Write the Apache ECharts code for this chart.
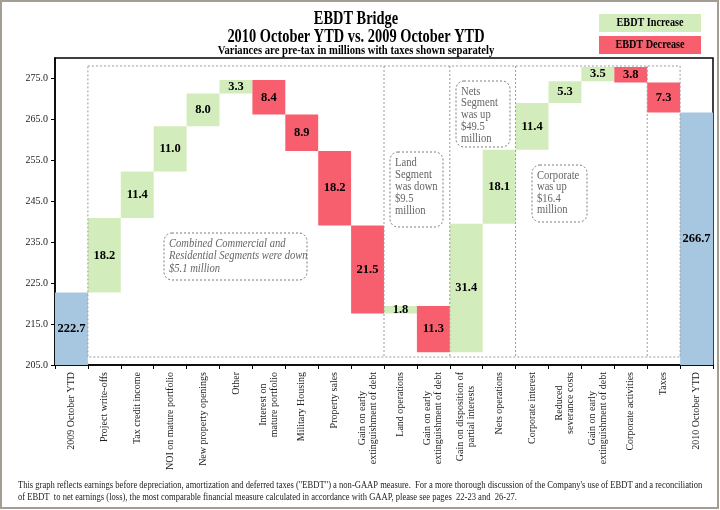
<!DOCTYPE html>
<html>
<head>
<meta charset="utf-8">
<script src="https://cdn.jsdelivr.net/npm/echarts@6/dist/echarts.min.js"></script>
<style>html,body{margin:0;padding:0;background:#fff}#c{width:720px;height:510px}</style>
</head>
<body>
<div id="c"></div>
<script>
const categories = [
  '2009 October YTD', 'Project write-offs', 'Tax credit income', 'NOI on mature portfolio',
  'New property openings', 'Other', 'Interest on\nmature portfolio', 'Military Housing',
  'Property sales', 'Gain on early\nextinguishment of debt', 'Land operations',
  'Gain on early\nextinguishment of debt', 'Gain on disposition of\npartial interests',
  'Nets operations', 'Corporate interest', 'Reduced\nseverance costs',
  'Gain on early\nextinguishment of debt', 'Corporate activities', 'Taxes', '2010 October YTD'
];
const startValue = 222.7;
const endValue = 266.7;
const changes = [18.2, 11.4, 11.0, 8.0, 3.3, -8.4, -8.9, -18.2, -21.5, 1.8, -11.3, 31.4, 18.1, 11.4, 5.3, 3.5, -3.8, -7.3];
const yTicks = [205, 215, 225, 235, 245, 255, 265, 275];
const groupStarts = [1, 10, 12, 14, 18];   // first category of each dashed group
const groupEnd = 18;                        // last category inside the dashed frame
const annotations = [
  { lines: ['Combined Commercial and', 'Residential Segments were down', '$5.1 million'], italic: true },
  { lines: ['Land', 'Segment', 'was down', '$9.5', 'million'] },
  { lines: ['Nets', 'Segment', 'was up', '$49.5', 'million'] },
  { lines: ['Corporate', 'was up', '$16.4', 'million'] }
];
const legendItems = ['EBDT Increase', 'EBDT Decrease'];
const titleLines = ['EBDT Bridge', '2010 October YTD vs. 2009 October YTD', 'Variances are pre-tax in millions with taxes shown separately'];
const footerLines = [
  'This graph reflects earnings before depreciation, amortization and deferred taxes ("EBDT") a non-GAAP measure.  For a more thorough discussion of the Company\'s use of EBDT and a reconciliation',
  'of EBDT  to net earnings (loss), the most comparable financial measure calculated in accordance with GAAP, please see pages  22-23 and  26-27.'
];

const GREEN = '#d3ecbc', RED = '#f75f6e', BLUE = '#a7c7e0';
const SERIF = '"Liberation Serif", "Times New Roman", serif';

// waterfall build
const base = [0], inc = ['-'], dec = ['-'], tot = [startValue];
let run = startValue;
changes.forEach(c => {
  const next = Math.round((run + c) * 10) / 10;
  if (c >= 0) { base.push(run); inc.push(c); dec.push('-'); }
  else { base.push(next); inc.push('-'); dec.push(-c); }
  tot.push('-');
  run = next;
});
base.push(0); inc.push('-'); dec.push('-'); tot.push(endValue);

const lbl = {
  show: true, position: 'inside', color: '#000', fontWeight: 'bold', fontSize: 12.5,
  fontFamily: SERIF, formatter: p => (typeof p.value === 'number' ? p.value.toFixed(1) : '')
};

const chart = echarts.init(document.getElementById('c'), null, { renderer: 'canvas' });
chart.setOption({
  animation: false,
  backgroundColor: '#fff',
  grid: { left: 55, right: 7, top: 58, bottom: 145, show: true, borderColor: '#000', borderWidth: 1.5, backgroundColor: 'transparent' },
  xAxis: {
    type: 'category', data: categories,
    axisLine: { lineStyle: { color: '#000', width: 1.5 } },
    axisTick: { show: true, alignWithLabel: false, length: 4, lineStyle: { color: '#000' } },
    axisLabel: {
      interval: 0, rotate: 90, margin: 7, color: '#222', fontSize: 10, fontFamily: SERIF,
      formatter: v => v.split('\n').map(s => '{c|' + s + '}').join('\n'),
      rich: { c: { align: 'center', fontSize: 10, fontFamily: SERIF, color: '#222', lineHeight: 11 } }
    },
    splitLine: { show: false }
  },
  yAxis: {
    type: 'value', min: 205, max: 280,
    axisLine: { show: true, lineStyle: { color: '#000', width: 1.5 } },
    axisTick: { show: true, length: 4, customValues: yTicks, lineStyle: { color: '#000' } },
    axisLabel: { customValues: yTicks, formatter: v => v.toFixed(1), color: '#222', fontSize: 10, fontFamily: SERIF, margin: 7 },
    splitLine: { show: false }
  },
  series: [
    { type: 'bar', stack: 'w', data: base, itemStyle: { color: 'transparent' }, silent: true, barCategoryGap: '0%' },
    { type: 'bar', stack: 'w', data: inc, itemStyle: { color: GREEN }, label: lbl, barCategoryGap: '0%' },
    { type: 'bar', stack: 'w', data: dec, itemStyle: { color: RED }, label: lbl, barCategoryGap: '0%' },
    { type: 'bar', stack: 'w', data: tot, itemStyle: { color: BLUE }, label: lbl, barCategoryGap: '0%' }
  ]
});

// overlay graphics computed from the axes
const cx = i => chart.convertToPixel({ xAxisIndex: 0 }, i);
const band = cx(1) - cx(0);
const edge = i => cx(i) - band / 2;
const gTop = chart.convertToPixel({ yAxisIndex: 0 }, 280) + 8;
const gBot = chart.convertToPixel({ yAxisIndex: 0 }, 205) - 8;
const dash = { stroke: '#9a9a9a', lineWidth: 1, lineDash: [2, 2], fill: null };
const g = [];
// outer image border
g.push({ type: 'rect', shape: { x: 1, y: 1, width: 717, height: 507 }, style: { stroke: '#a39d94', lineWidth: 2, fill: null }, z: 100 });
// dashed group frame
g.push({ type: 'rect', shape: { x: edge(groupStarts[0]), y: gTop, width: edge(groupEnd + 1) - edge(groupStarts[0]), height: gBot - gTop }, style: dash, z: 5 });
groupStarts.slice(1).forEach(i => {
  g.push({ type: 'line', shape: { x1: edge(i), y1: gTop, x2: edge(i), y2: gBot }, style: dash, z: 5 });
});
// annotation boxes
const annBoxes = [
  { x: 164, y: 233, w: 143, h: 47, lh: 12.5 },
  { x: 390, y: 152, w: 53, h: 75, lh: 12 },
  { x: 456, y: 81, w: 54, h: 66, lh: 11.8 },
  { x: 532, y: 165, w: 55, h: 57, lh: 11.6 }
];
annotations.forEach((a, k) => {
  const b = annBoxes[k];
  g.push({ type: 'rect', shape: { x: b.x, y: b.y, width: b.w, height: b.h, r: 8 }, style: { stroke: '#7a7a7a', lineWidth: 1, lineDash: [2, 2], fill: '#fff' }, z: 10 });
  a.lines.forEach((t, j) => {
    g.push({ type: 'text', x: b.x + 5, y: b.y + 10.5 + j * b.lh, scaleX: 0.92, z: 11,
      style: { text: t, fill: '#666', font: (a.italic ? 'italic ' : '') + '11.5px ' + SERIF, textAlign: 'left', textVerticalAlign: 'middle' } });
  });
});
// titles
const tY = [19, 37, 51];
const tFont = ['bold 18px ', 'bold 18px ', 'bold 12.5px '];
const tScale = [0.8, 0.8, 0.85];
titleLines.forEach((t, i) => {
  g.push({ type: 'text', x: 356, y: tY[i], scaleX: tScale[i], z: 20,
    style: { text: t, fill: '#000', font: tFont[i] + SERIF, textAlign: 'center', textVerticalAlign: 'middle' } });
});
// legend boxes
const legColors = [GREEN, RED];
legendItems.forEach((t, i) => {
  const y = 14 + i * 22;
  g.push({ type: 'rect', shape: { x: 599, y: y, width: 102, height: 18 }, style: { fill: legColors[i] }, z: 20 });
  g.push({ type: 'text', x: 650, y: y + 9, scaleX: 0.85, z: 21,
    style: { text: t, fill: '#000', font: 'bold 12px ' + SERIF, textAlign: 'center', textVerticalAlign: 'middle' } });
});
// footer
footerLines.forEach((t, i) => {
  g.push({ type: 'text', x: 18, y: 485 + i * 12, scaleX: 0.855, z: 20,
    style: { text: t, fill: '#222', font: '10px ' + SERIF, textAlign: 'left', textVerticalAlign: 'middle' } });
});
chart.setOption({ graphic: g });
</script>
</body>
</html>
